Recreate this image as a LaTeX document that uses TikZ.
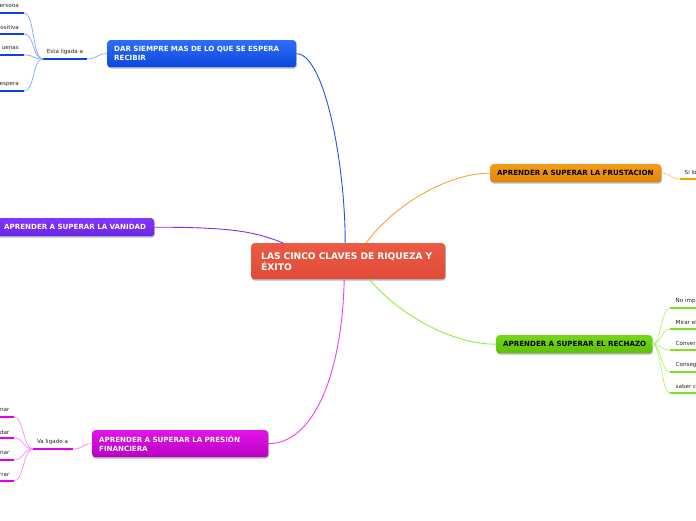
\documentclass[tikz,border=0pt]{standalone}
\usepackage{fontspec}
\setmainfont{DejaVu Sans}
\usetikzlibrary{shadows}
\definecolor{cTop}{HTML}{EB5A43}
\definecolor{cBot}{HTML}{E04B37}
\definecolor{bTop}{HTML}{2E6DF9}
\definecolor{bBot}{HTML}{0C47DC}
\definecolor{oTop}{HTML}{F59B14}
\definecolor{oBot}{HTML}{E2860A}
\definecolor{pTop}{HTML}{8236F8}
\definecolor{pBot}{HTML}{6A24E8}
\definecolor{gTop}{HTML}{74D914}
\definecolor{gBot}{HTML}{5CBF06}
\definecolor{mTop}{HTML}{E214EA}
\definecolor{mBot}{HTML}{B900C2}
\definecolor{lnBlue}{HTML}{1F55EE}
\definecolor{lnOrange}{HTML}{F9A332}
\definecolor{lnPurple}{HTML}{7A30F0}
\definecolor{lnGreen}{HTML}{8EEE38}
\definecolor{lnMagenta}{HTML}{F23CF2}
\definecolor{ltBlue}{HTML}{86A6F8}
\definecolor{ltMagenta}{HTML}{F48AF4}
\definecolor{ltGreen}{HTML}{AFF26A}
\definecolor{ltOrange}{HTML}{F8C47A}
\definecolor{ulBlue}{HTML}{0F40E8}
\definecolor{ulMagenta}{HTML}{E400E6}
\definecolor{ulGreen}{HTML}{7EE01E}
\definecolor{ulOrange}{HTML}{F5A000}
\definecolor{leafText}{HTML}{222222}
\begin{document}
\begin{tikzpicture}[x=1pt,y=-1pt,
  box/.style={rounded corners=3pt, anchor=north west, inner xsep=7pt, inner ysep=0pt,
    align=left, font=\bfseries\fontsize{7.1}{9.3}\selectfont,
    drop shadow={shadow xshift=0.6pt, shadow yshift=-1.3pt, opacity=0.28, fill=black}},
  leaf/.style={inner sep=0pt, text=leafText, font=\fontsize{5.6}{6.5}\selectfont},
  mainln/.style={line width=0.9pt},
  subln/.style={line width=0.7pt},
  uline/.style={line width=2.4pt}]
\useasboundingbox (0,0) rectangle (696,520);

% main topic
\node[box, minimum height=36pt, text width=174pt, inner xsep=10pt,
  top color=cTop, bottom color=cBot, text=white,
  font=\bfseries\fontsize{9.1}{11}\selectfont] (c) at (251,243)
  {\mbox{LAS CINCO CLAVES DE RIQUEZA Y}\\ÉXITO};

% subtopics
\node[box, minimum height=27pt, text width=175pt, top color=bTop, bottom color=bBot, text=white] (b) at (107,40)
  {\mbox{DAR SIEMPRE MAS DE LO QUE SE ESPERA}\\RECIBIR};
\node[box, minimum height=18pt, text width=157pt, top color=oTop, bottom color=oBot, text=black] (o) at (490,164)
  {\mbox{APRENDER A SUPERAR LA FRUSTACION}};
\node[box, minimum height=18pt, text width=143pt, top color=pTop, bottom color=pBot, text=white] (p) at (-3,218)
  {\mbox{APRENDER A SUPERAR LA VANIDAD}};
\node[box, minimum height=18pt, text width=142pt, top color=gTop, bottom color=gBot, text=black] (g) at (496,335)
  {\mbox{APRENDER A SUPERAR EL RECHAZO}};
\node[box, minimum height=27pt, text width=162pt, top color=mTop, bottom color=mBot, text=white] (m) at (92,430)
  {\mbox{APRENDER A SUPERAR LA PRESIÓN}\\FINANCIERA};

% main connectors
\draw[mainln, lnBlue] (b.east) .. controls +(28,0) and +(0,-80) .. ([xshift=-3pt]c.north);
\draw[mainln, lnOrange] ([xshift=18pt]c.north) .. controls +(25,-35) and +(-45,0) .. (o.west);
\draw[mainln, lnPurple] (p.east) .. controls +(75,0) and +(-30,-12) .. ([xshift=-65pt]c.north);
\draw[mainln, lnGreen] ([xshift=21pt]c.south) .. controls +(30,35) and +(-45,0) .. (g.west);
\draw[mainln, lnMagenta] ([xshift=-4pt]c.south) .. controls +(-2,95) and +(45,0) .. (m.east);

% ---- blue branch: Esta ligada a
\coordinate (eu1) at (43,59);
\coordinate (eu2) at (87,59);
\node[leaf] (et) at (65,52) {Esta ligada a};
\draw[uline, ulBlue] (eu1) -- (eu2);
\draw[subln, ltBlue] (eu2) .. controls +(10,0) and +(-10,0) .. (b.west);
\foreach \i/\y/\t/\ty in {1/13/ersona/6, 2/34/ositiva/27, 3/55/uenas/48, 4/91/espera/85}{
  \coordinate (bla\i) at (0,\y);
  \coordinate (blb\i) at (24,\y);
  \node[leaf, anchor=east] (blt\i) at (19,\ty) {\t};
  \draw[uline, ulBlue] (bla\i) -- (blb\i);
  \draw[subln, ltBlue] (eu1) .. controls +(-11,0) and +(11,0) .. (blb\i);
}

% ---- magenta branch: Va ligado a
\coordinate (vu1) at (33,449);
\coordinate (vu2) at (73,449);
\node[leaf] (vt) at (52.5,442) {Va ligado a};
\draw[uline, ulMagenta] (vu1) -- (vu2);
\draw[subln, ltMagenta] (vu2) .. controls +(10,0) and +(-10,0) .. (m.west);
\foreach \i/\y/\t/\ty in {1/417/nar/410, 2/438/dar/432, 3/460/nar/453, 4/481/rrar/475}{
  \coordinate (mla\i) at (0,\y);
  \coordinate (mlb\i) at (14,\y);
  \node[leaf, anchor=east] (mlt\i) at (9.5,\ty) {\t};
  \draw[uline, ulMagenta] (mla\i) -- (mlb\i);
  \draw[subln, ltMagenta] (vu1) .. controls +(-10,0) and +(10,0) .. (mlb\i);
}

% ---- orange leaf
\coordinate (ou1) at (680,179);
\coordinate (ou2) at (700,179);
\node[leaf, anchor=west] (ot) at (684.5,172) {Si lo};
\draw[uline, ulOrange] (ou1) -- (ou2);
\draw[subln, ltOrange] (o.east) .. controls +(10,0) and +(-10,0) .. (ou1);

% ---- green leaves
\foreach \i/\y/\t/\ty in {1/308/No imp/301, 2/329/Mirar el/322, 3/350/Conver/343, 4/372/Conseg/365, 5/393/saber c/386}{
  \coordinate (gla\i) at (670,\y);
  \coordinate (glb\i) at (700,\y);
  \node[leaf, anchor=west] (glt\i) at (675.5,\ty) {\t};
  \draw[uline, ulGreen] (gla\i) -- (glb\i);
  \draw[subln, ltGreen] (g.east) .. controls +(9,0) and +(-9,0) .. (gla\i);
}
\end{tikzpicture}
\end{document}
